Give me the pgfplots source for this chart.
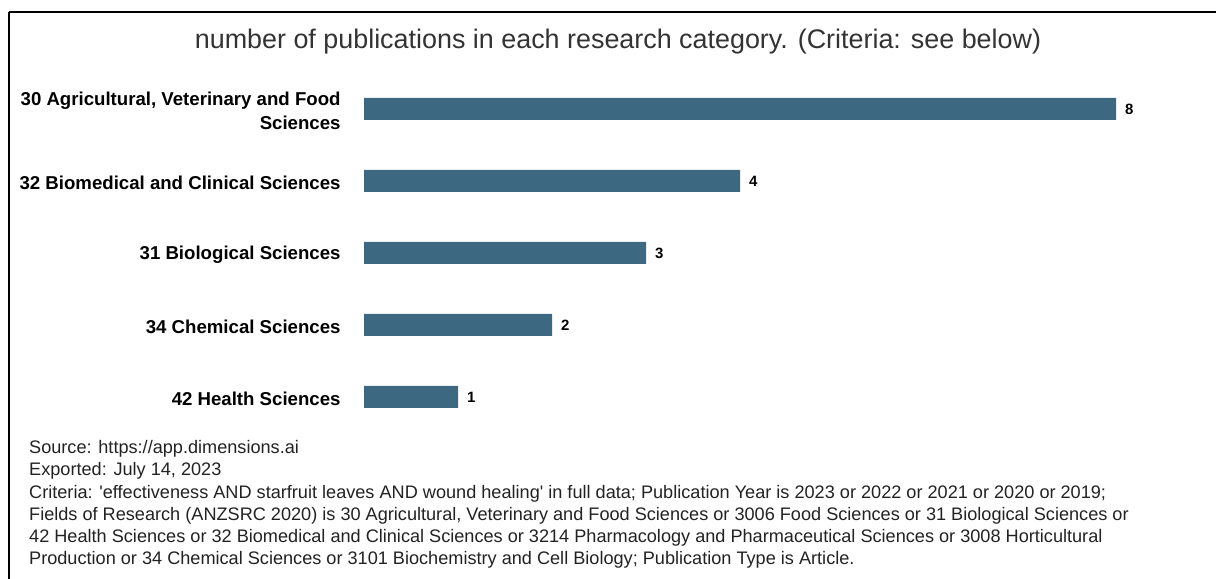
\documentclass[border=0pt]{standalone}
\usepackage{fontspec}
\setmainfont{Liberation Sans}[Ligatures=TeXOff]
\usepackage{pgfplots}
\pgfplotsset{compat=1.18}
\definecolor{barc}{HTML}{3C6882}
\definecolor{titc}{HTML}{333333}
\definecolor{notec}{HTML}{222222}
\begin{document}
\begin{tikzpicture}[x=1bp,y=1bp]
\path[use as bounding box] (0,0) rectangle (1216,579);
\draw[line width=1.5bp] (9,567) -- (1216,567);
\draw[line width=1.5bp] (9,567) -- (9,0);
\node[anchor=center,text=titc,font=\fontsize{27}{31}\selectfont] at (618,537) {number of publications in each research category. (Criteria: see below)};
\begin{axis}[
  at={(364bp,146bp)}, anchor=south west,
  scale only axis, width=752bp, height=360bp,
  xmin=0, xmax=8, ymin=-0.5, ymax=4.5, y dir=reverse,
  xbar, bar width=22bp,
  axis line style={draw=none}, tick style={draw=none},
  xtick=\empty,
  ytick={0,1,2,3,4},
  yticklabels={{30 Agricultural, Veterinary and Food\\Sciences},{32 Biomedical and Clinical Sciences},{31 Biological Sciences},{34 Chemical Sciences},{42 Health Sciences}},
  yticklabel style={font=\fontsize{18.7}{24}\selectfont\bfseries, align=right, inner sep=0pt, xshift=-19bp, yshift=-1.5bp},
  /pgf/number format/assume math mode=true,
  nodes near coords,
  nodes near coords style={font=\fontsize{15}{17}\selectfont\bfseries, anchor=west, inner sep=0pt, xshift=9bp},
]
\addplot[fill=barc, draw=none] coordinates {(8,0) (4,1) (3,2) (2,3) (1,4)};
\end{axis}
\node[anchor=north west, align=left, text=notec, inner sep=0pt, font=\fontsize{18.2}{22.2}\selectfont] at (29,138.5) {Source: https://app.dimensions.ai\\
Exported: July 14, 2023\\
Criteria: 'effectiveness AND starfruit leaves AND wound healing' in full data; Publication Year is 2023 or 2022 or 2021 or 2020 or 2019;\\
Fields of Research (ANZSRC 2020) is 30 Agricultural, Veterinary and Food Sciences or 3006 Food Sciences or 31 Biological Sciences or\\
42 Health Sciences or 32 Biomedical and Clinical Sciences or 3214 Pharmacology and Pharmaceutical Sciences or 3008 Horticultural\\
Production or 34 Chemical Sciences or 3101 Biochemistry and Cell Biology; Publication Type is Article.};
\end{tikzpicture}
\end{document}
